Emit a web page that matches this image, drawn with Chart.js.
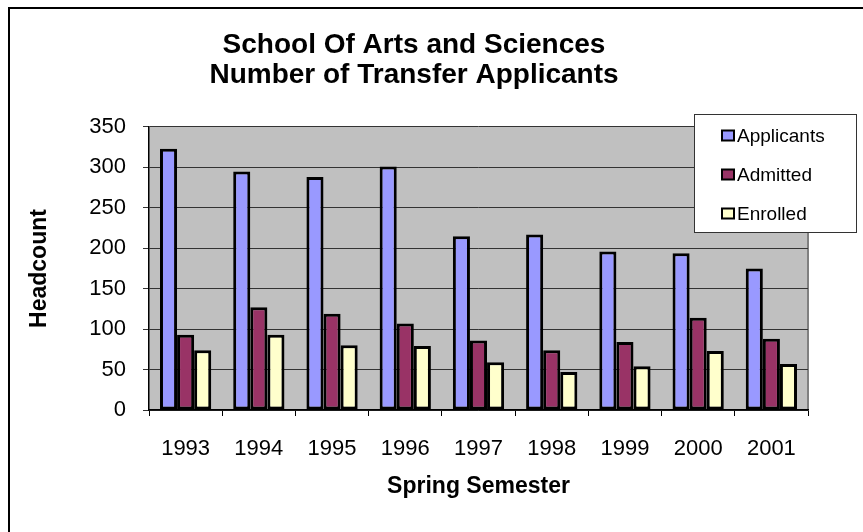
<!DOCTYPE html>
<html>
<head>
<meta charset="utf-8">
<script src="https://cdn.jsdelivr.net/npm/chart.js@4/dist/chart.umd.min.js"></script>
<style>
  html, body { margin: 0; padding: 0; background: #ffffff; }
  #wrap { width: 863px; height: 532px; position: relative; }
</style>
</head>
<body>
<div id="wrap"><canvas id="c" width="863" height="532"></canvas></div>
<script>
const titleLines = ['School Of Arts and Sciences', 'Number of Transfer Applicants'];
const years = ['1993', '1994', '1995', '1996', '1997', '1998', '1999', '2000', '2001'];
const seriesNames = ['Applicants', 'Admitted', 'Enrolled'];
const applicants = [323, 295, 288, 301, 215, 217, 196, 194, 175];
const admitted = [93, 127, 119, 107, 86, 74, 84, 114, 88];
const enrolled = [74, 93, 80, 79, 59, 47, 54, 73, 57];
const seriesColors = ['#9999FF', '#993366', '#FFFFCC'];
const yTitle = 'Headcount';
const xTitle = 'Spring Semester';

const FONT = "'Liberation Sans', Arial, sans-serif";

const frameAndPlot = {
  id: 'frameAndPlot',
  beforeDraw(chart) {
    const ctx = chart.ctx;
    const a = chart.chartArea;
    ctx.save();
    ctx.fillStyle = '#ffffff';
    ctx.fillRect(0, 0, chart.width, chart.height);
    ctx.strokeStyle = '#000000';
    ctx.lineWidth = 2;
    ctx.strokeRect(9, 8, chart.width + 20, chart.height + 20);
    ctx.fillStyle = '#C0C0C0';
    ctx.fillRect(a.left, a.top, a.right - a.left, a.bottom - a.top);
    ctx.strokeStyle = '#808080';
    ctx.lineWidth = 2;
    ctx.beginPath();
    ctx.moveTo(a.right, a.top);
    ctx.lineTo(a.right, a.bottom);
    ctx.stroke();
    ctx.restore();
  },
  afterDraw(chart) {
    const ctx = chart.ctx;
    ctx.save();
    const bx = 694, by = 114, bw = 162, bh = 118;
    ctx.fillStyle = '#ffffff';
    ctx.fillRect(bx, by, bw, bh);
    ctx.strokeStyle = '#333333';
    ctx.lineWidth = 1;
    ctx.strokeRect(bx + 0.5, by + 0.5, bw, bh);
    ctx.font = '19px ' + FONT;
    ctx.textBaseline = 'alphabetic';
    ctx.textAlign = 'left';
    chart.data.datasets.forEach((ds, i) => {
      const base = 141.5 + i * 39;
      ctx.fillStyle = ds.backgroundColor;
      ctx.fillRect(722, base - 11, 12, 10);
      ctx.strokeStyle = '#000000';
      ctx.lineWidth = 2;
      ctx.strokeRect(722, base - 11, 12, 10);
      ctx.fillStyle = '#000000';
      ctx.fillText(ds.label, 737, base);
    });
    ctx.restore();
  }
};

const seriesData = [applicants, admitted, enrolled];

new Chart(document.getElementById('c'), {
  type: 'bar',
  data: {
    labels: years,
    datasets: seriesNames.map((name, i) => ({
      label: name,
      data: seriesData[i],
      backgroundColor: seriesColors[i],
      borderColor: '#000000',
      borderWidth: 3,
      borderSkipped: false,
      categoryPercentage: 0.7,
      barPercentage: 1.0
    }))
  },
  options: {
    responsive: false,
    animation: false,
    devicePixelRatio: 1,
    layout: { padding: { left: 20, right: 55, top: 0, bottom: 0 } },
    plugins: {
      legend: { display: false },
      tooltip: { enabled: false },
      title: {
        display: true,
        text: titleLines,
        color: '#000000',
        font: { family: FONT, size: 28, weight: 'bold', lineHeight: 1.08 },
        padding: { top: 30, bottom: 36.5 }
      }
    },
    scales: {
      x: {
        offset: true,
        grid: {
          offset: true,
          drawOnChartArea: false,
          drawTicks: true,
          tickLength: 6,
          color: '#000000'
        },
        border: { display: true, color: '#000000', width: 1.5 },
        ticks: {
          color: '#000000',
          font: { family: FONT, size: 22 },
          padding: 20,
          maxRotation: 0,
          autoSkip: false
        },
        title: {
          display: true,
          text: xTitle,
          color: '#000000',
          font: { family: FONT, size: 23, weight: 'bold' },
          padding: { top: 4, bottom: 32 }
        },
        afterFit(scale) { scale.height = 122; }
      },
      y: {
        min: 0,
        max: 350,
        ticks: {
          stepSize: 50,
          color: '#000000',
          font: { family: FONT, size: 22 },
          padding: 17
        },
        grid: {
          color: '#333333',
          lineWidth: 1,
          drawTicks: true,
          tickLength: 6
        },
        border: { display: true, color: '#000000', width: 1.5 },
        title: {
          display: true,
          text: yTitle,
          color: '#000000',
          font: { family: FONT, size: 23, weight: 'bold' },
          padding: { top: 6, bottom: 4 }
        },
        afterFit(scale) { scale.width = 129; }
      }
    }
  },
  plugins: [frameAndPlot]
});
</script>
</body>
</html>
